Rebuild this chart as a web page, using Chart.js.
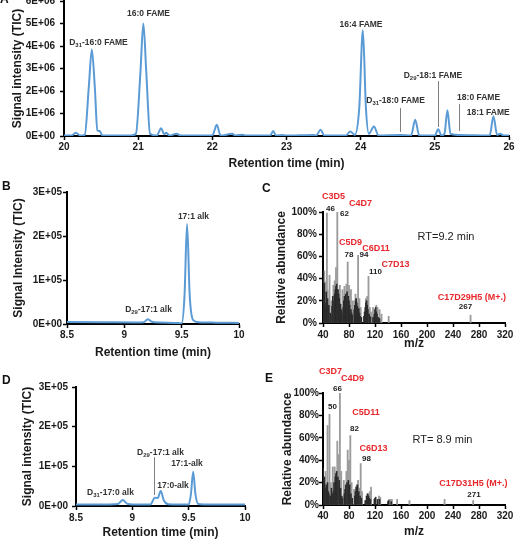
<!DOCTYPE html>
<html>
<head>
<meta charset="utf-8">
<script src="https://cdn.jsdelivr.net/npm/chart.js@4.4.1/dist/chart.umd.min.js"></script>
<style>
body { margin: 0; background: #fff; width: 523px; height: 542px; position: relative; overflow: hidden; font-family: 'Liberation Sans', Arial, sans-serif; }
canvas { position: absolute; }
.letter { position: absolute; font-weight: bold; font-size: 12px; line-height: 12px; color: #111; }
</style>
</head>
<body>
<canvas id="chartA" width="523" height="180" style="left:0;top:0"></canvas>
<canvas id="chartB" width="260" height="180" style="left:0;top:180px"></canvas>
<canvas id="chartC" width="263" height="180" style="left:260px;top:180px"></canvas>
<canvas id="chartD" width="260" height="182" style="left:0;top:360px"></canvas>
<canvas id="chartE" width="263" height="182" style="left:260px;top:360px"></canvas>
<div class="letter" style="left:0;top:-7px">A</div>
<div class="letter" style="left:2px;top:180px">B</div>
<div class="letter" style="left:262px;top:182px">C</div>
<div class="letter" style="left:2px;top:374px">D</div>
<div class="letter" style="left:265px;top:372px">E</div>
<script>
// chromatograms: [retention time (min), signal]
var aTrace = [
    [20.00, 2e4], [20.10, 2e4], [20.16, 1.5e5], [20.22, 2e4], [20.28, 5e4], [20.335, 2.2e6], [20.375, 3.85e6], [20.415, 2.2e6],
    [20.45, 2.5e5], [20.48, 2.2e5], [20.52, 2e4], [20.90, 2e4], [20.97, 1e5], [21.03, 2.8e6], [21.07, 5.0e6], [21.11, 2.8e6],
    [21.16, 1e5], [21.25, 2e4], [21.31, 3.5e5], [21.35, 8e4], [21.38, 1.4e5], [21.42, 2e4], [21.52, 1e5], [21.57, 2e4],
    [22.00, 2e4], [22.06, 5e5], [22.11, 2e4], [22.27, 1e5], [22.31, 2e4], [22.41, 6e4], [22.45, 2e4], [22.78, 2e4],
    [22.82, 2.2e5], [22.86, 2e4], [22.95, 5e4], [22.99, 2e4], [23.36, 5e4], [23.40, 2e4], [23.46, 2.8e5], [23.51, 2e4],
    [23.80, 2e4], [23.86, 2e5], [23.92, 5e4], [23.98, 1.2e6], [24.03, 4.7e6], [24.07, 1.3e6], [24.11, 1e5], [24.18, 4.2e5],
    [24.24, 2e4], [24.53, 4e4], [24.68, 2e4], [24.735, 7.2e5], [24.79, 2e4], [25.00, 2e4], [25.045, 3e5], [25.09, 2e4],
    [25.13, 1e5], [25.17, 1.15e6], [25.21, 1e5], [25.34, 4e4], [25.74, 2e4], [25.79, 8.8e5], [25.84, 5e4], [25.88, 1e5],
    [25.93, 2e4], [26.00, 2e4]
];
var bTrace = [
    [8.50, 4500], [8.80, 4000], [9.10, 3500], [9.17, 4000], [9.205, 11000], [9.24, 5000], [9.30, 3500], [9.45, 2500],
    [9.50, 1500], [9.525, 65000], [9.547, 227000], [9.57, 65000], [9.60, 9000], [9.65, 4000], [9.80, 3000], [10.00, 2500]
];
var dTrace = [
    [8.50, 4000], [8.80, 4000], [8.87, 5000], [8.915, 15000], [8.96, 5000], [9.05, 3500], [9.16, 3500], [9.20, 21000],
    [9.225, 20000], [9.252, 38000], [9.28, 14000], [9.32, 4500], [9.50, 3500], [9.52, 30000], [9.54, 86500], [9.56, 30000],
    [9.585, 5000], [9.70, 3500], [10.00, 3500]
];

// mass spectra: [m/z, relative abundance %]
var cLight = [
    [42, 47], [43, 37], [44, 28], [46, 99], [47, 30], [50, 43], [53, 20], [56, 34], [58, 38], [60, 50], [62, 100], [64, 30],
    [66, 34], [70, 30], [73, 33], [76, 35], [78, 55], [80, 34], [83, 30], [86, 20], [90, 26], [94, 61], [96, 22], [98, 14],
    [106, 22], [108, 24], [110, 42], [112, 14], [114, 10], [117, 14], [122, 16], [124, 14], [127, 12], [130, 8], [141, 6], [267, 7]
];
var cDark = [
    [40, 47], [41, 30], [42, 36], [43, 18], [44, 14], [45, 28], [47, 22], [48, 12], [49, 16], [51, 9], [52, 7], [54, 15],
    [55, 24], [57, 20], [58, 26], [59, 30], [60, 33], [61, 35], [63, 30], [64, 26], [65, 22], [67, 17], [68, 12], [69, 9],
    [71, 14], [72, 20], [73, 24], [75, 26], [76, 20], [77, 28], [79, 24], [80, 20], [81, 16], [83, 12], [84, 9], [85, 7],
    [88, 12], [89, 16], [90, 20], [91, 22], [92, 18], [93, 15], [95, 13], [96, 9], [97, 6], [99, 5], [103, 6], [104, 10],
    [105, 14], [106, 18], [107, 20], [108, 16], [109, 12], [111, 8], [112, 6], [113, 5], [117, 5], [119, 8], [120, 12],
    [121, 14], [122, 10], [123, 8], [125, 5], [127, 4]
];
var eLight = [
    [44, 30], [47, 71], [50, 81], [52, 20], [55, 34], [58, 34], [62, 57], [64, 45], [66, 100], [68, 30], [72, 22], [76, 30],
    [78, 49], [80, 40], [82, 62], [84, 20], [88, 14], [92, 18], [94, 22], [96, 15], [98, 37], [100, 12], [108, 10], [112, 12],
    [114, 16], [126, 8], [128, 7], [142, 5], [144, 5], [146, 5], [154, 5], [173, 4], [227, 5], [271, 4]
];
var eDark = [
    [40, 33], [41, 20], [42, 25], [43, 15], [45, 18], [47, 20], [48, 12], [49, 10], [51, 8], [53, 15], [54, 10], [56, 12],
    [57, 20], [59, 25], [60, 28], [61, 30], [63, 25], [65, 22], [67, 15], [69, 8], [70, 6], [73, 10], [74, 14], [75, 18],
    [77, 20], [79, 22], [81, 18], [83, 10], [85, 6], [89, 8], [90, 12], [91, 16], [93, 18], [95, 12], [97, 8], [99, 6],
    [105, 4], [107, 8], [109, 10], [110, 8], [111, 6], [113, 5], [119, 5], [120, 6], [121, 7], [124, 5], [127, 5], [140, 3],
    [141, 4], [145, 3]
];

var FONT = "'Liberation Sans', Arial, sans-serif";
var BLUE = '#5b9bd5';

var noteStyles = {
    peak: {size: 8.5, color: '#333', weight: 'bold'},
    ion: {size: 9, color: '#e8282c', weight: 'bold'},
    mz: {size: 8, color: '#222', weight: 'bold'},
    rt: {size: 11, color: '#222', weight: 'normal'}
};

// draws text centred on (cx, cy); "_31" becomes a subscript
function drawRich(ctx, text, cx, cy, st) {
    var parts = text.split(/_(\d+)/);
    var subSize = st.size * 0.7;
    var w = 0;
    parts.forEach(function (p, i) {
        ctx.font = st.weight + ' ' + (i % 2 ? subSize : st.size) + 'px ' + FONT;
        w += ctx.measureText(p).width;
    });
    var x = cx - w / 2;
    ctx.fillStyle = st.color;
    ctx.textBaseline = 'middle';
    ctx.textAlign = 'left';
    parts.forEach(function (p, i) {
        ctx.font = st.weight + ' ' + (i % 2 ? subSize : st.size) + 'px ' + FONT;
        ctx.fillText(p, x, cy + (i % 2 ? st.size * 0.3 : 0));
        x += ctx.measureText(p).width;
    });
}

function notes(items, lines) {
    return {
        id: 'notes',
        afterDraw: function (chart) {
            var ctx = chart.ctx, xs = chart.scales.x, ys = chart.scales.y;
            ctx.save();
            (lines || []).forEach(function (l) {
                var px = Math.round(xs.getPixelForValue(l[0])) + 0.5;
                ctx.strokeStyle = '#7f7f7f';
                ctx.lineWidth = 1;
                ctx.beginPath();
                ctx.moveTo(px, ys.getPixelForValue(l[1]));
                ctx.lineTo(px, ys.getPixelForValue(l[2]));
                ctx.stroke();
            });
            items.forEach(function (it) {
                drawRich(ctx, it[2], xs.getPixelForValue(it[0]), ys.getPixelForValue(it[1]), noteStyles[it[3]]);
            });
            ctx.restore();
        }
    };
}

function fixY(w) {
    return function (s) { s.width = w; s.paddingTop = 0; s.paddingBottom = 0; };
}
function fixX(h) {
    return function (s) { s.height = h; s.paddingLeft = 0; s.paddingRight = 0; };
}
function fmtE(exp) {
    return function (v) { return v === 0 ? '0E+00' : Math.round(v / Math.pow(10, exp)) + 'E+0' + exp; };
}

function scale(o) {
    return {
        type: 'linear', min: o.min, max: o.max, offset: false,
        border: {display: true, color: '#000', width: 2},
        grid: {display: true, drawOnChartArea: false, drawTicks: true, tickLength: 4, tickWidth: 1.5, tickColor: '#000', offset: false},
        ticks: {
            stepSize: o.step, autoSkip: false, maxRotation: 0, padding: o.pad, color: '#1a1a1a',
            font: {family: FONT, size: 10, weight: 'bold'},
            callback: o.fmt || function (v) { return String(v); }
        },
        title: {display: true, text: o.title, color: '#1a1a1a', font: {family: FONT, size: 12, weight: 'bold'}, padding: o.titlePad},
        afterFit: o.fit
    };
}

function toXY(arr) {
    return arr.map(function (p) { return {x: p[0], y: p[1]}; });
}

function chromatogram(id, trace, pad, xs, ys, items, lines) {
    return new Chart(document.getElementById(id), {
        type: 'line',
        data: {datasets: [{
            data: toXY(trace), borderColor: BLUE, borderWidth: 2, pointRadius: 0,
            cubicInterpolationMode: 'monotone', fill: false
        }]},
        options: {
            responsive: false, animation: false,
            layout: {padding: pad},
            plugins: {legend: {display: false}, tooltip: {enabled: false}},
            scales: {x: scale(xs), y: scale(ys)}
        },
        plugins: [notes(items, lines)]
    });
}

function spectrum(id, light, dark, pad, xs, ys, items) {
    return new Chart(document.getElementById(id), {
        type: 'bar',
        data: {datasets: [
            {data: toXY(dark), backgroundColor: '#2b2b2b', barThickness: 1, grouped: false, order: 0},
            {data: toXY(light), backgroundColor: '#9c9c9c', barThickness: 1.2, grouped: false, order: 1}
        ]},
        options: {
            responsive: false, animation: false,
            layout: {padding: pad},
            plugins: {legend: {display: false}, tooltip: {enabled: false}},
            scales: {x: scale(xs), y: scale(ys)}
        },
        plugins: [notes(items)]
    });
}

var pct = function (v) { return v + '%'; };

// A
chromatogram('chartA', aTrace, {top: 1, right: 14, left: 0, bottom: 0},
    {min: 20, max: 26, step: 1, pad: 1, title: 'Retention time (min)', titlePad: {top: 0, bottom: 9}, fit: fixX(44)},
    {min: 0, max: 6e6, step: 1e6, pad: 5, fmt: fmtE(6), title: 'Signal intensity (TIC)', titlePad: {top: 10, bottom: 0}, fit: fixY(64)},
    [
        [20.465, 4.13e6, 'D_31-16:0 FAME', 'peak'],
        [21.14, 5.42e6, '16:0 FAME', 'peak'],
        [24.005, 4.93e6, '16:4 FAME', 'peak'],
        [24.975, 2.67e6, 'D_29-18:1 FAME', 'peak'],
        [24.47, 1.56e6, 'D_31-18:0 FAME', 'peak'],
        [25.59, 1.69e6, '18:0 FAME', 'peak'],
        [25.72, 1.02e6, '18:1 FAME', 'peak']
    ],
    [[24.53, 1.24e6, 0.18e6], [25.04, 2.44e6, 0.4e6], [25.325, 1.42e6, 0.22e6]]
);

// B
chromatogram('chartB', bTrace, {top: 12, right: 21, left: 0, bottom: 0},
    {min: 8.5, max: 10, step: 0.5, pad: 1, title: 'Retention time (min)', titlePad: {top: 0, bottom: 0}, fit: fixX(36)},
    {min: 0, max: 3e5, step: 1e5, pad: 1, fmt: fmtE(5), title: 'Signal Intensity (TIC)', titlePad: {top: 11, bottom: 0}, fit: fixY(67)},
    [
        [9.603, 2.43e5, '17:1 alk', 'peak'],
        [9.211, 3.18e4, 'D_29-17:1 alk', 'peak']
    ]
);

// D
chromatogram('chartD', dTrace, {top: 27, right: 15, left: 0, bottom: 0},
    {min: 8.5, max: 10, step: 0.5, pad: 2, title: 'Retention time (min)', titlePad: {top: 0, bottom: 2}, fit: fixX(36)},
    {min: 0, max: 3e5, step: 1e5, pad: 4, fmt: fmtE(5), title: 'Signal intensity (TIC)', titlePad: {top: 20, bottom: 0}, fit: fixY(76)},
    [
        [8.806, 32700, 'D_31-17:0 alk', 'peak'],
        [9.25, 134000, 'D_29-17:1 alk', 'peak'],
        [9.361, 50300, '17:0-alk', 'peak'],
        [9.485, 108000, '17:1-alk', 'peak']
    ],
    [[9.195, 123000, 27700]]
);

// C
spectrum('chartC', cLight, cDark, {top: 32, right: 18, left: 0, bottom: 0},
    {min: 40, max: 320, step: 40, pad: 2, title: 'm/z', titlePad: {top: 0, bottom: 9}, fit: fixX(37)},
    {min: 0, max: 100, step: 20, pad: 2, fmt: pct, title: 'Relative abundance', titlePad: {top: 14, bottom: 0}, fit: fixY(63)},
    [
        [56.2, 113.5, 'C3D5', 'ion'],
        [51.5, 102.7, '46', 'mz'],
        [97.7, 107.2, 'C4D7', 'ion'],
        [73.1, 98.2, '62', 'mz'],
        [229.2, 77.5, 'RT=9.2 min', 'rt'],
        [82.3, 72.1, 'C5D9', 'ion'],
        [121.5, 66.7, 'C6D11', 'ion'],
        [80, 61.3, '78', 'mz'],
        [103, 61.3, '94', 'mz'],
        [151.5, 52.3, 'C7D13', 'ion'],
        [120.8, 45.9, '110', 'mz'],
        [269.2, 23.4, 'C17D29H5 (M+.)', 'ion'],
        [259.2, 14.4, '267', 'mz']
    ]
);

// E
spectrum('chartE', eLight, eDark, {top: 33, right: 18, left: 0, bottom: 0},
    {min: 40, max: 320, step: 40, pad: 1, title: 'm/z', titlePad: {top: 0, bottom: 3}, fit: fixX(37)},
    {min: 0, max: 100, step: 20, pad: 0, fmt: pct, title: 'Relative abundance', titlePad: {top: 20, bottom: 0}, fit: fixY(63)},
    [
        [51.5, 118.8, 'C3D7', 'ion'],
        [85.4, 112.5, 'C4D9', 'ion'],
        [62.3, 103.6, '66', 'mz'],
        [54.6, 87.5, '50', 'mz'],
        [106.2, 83, 'C5D11', 'ion'],
        [88.5, 67.9, '82', 'mz'],
        [223.8, 58, 'RT= 8.9 min', 'rt'],
        [117.7, 50, 'C6D13', 'ion'],
        [106.9, 41.1, '98', 'mz'],
        [271.5, 18.75, 'C17D31H5 (M+.)', 'ion'],
        [272.3, 8.9, '271', 'mz']
    ]
);
</script>
</body>
</html>
